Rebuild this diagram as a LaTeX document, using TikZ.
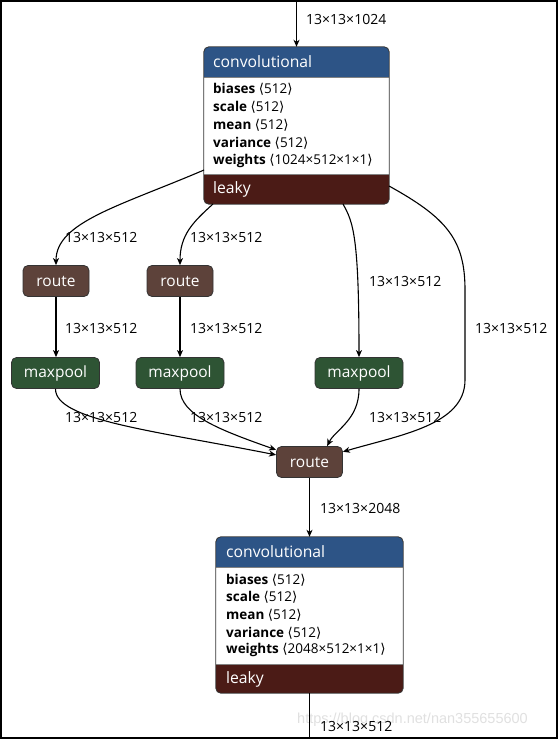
\documentclass[tikz,border=0pt]{standalone}
\usepackage{fontspec}
\setmainfont{Open Sans}
\newfontfamily\djv{DejaVu Sans}
\newfontfamily\wmfont{Liberation Sans}
\usetikzlibrary{arrows.meta,calc}
\definecolor{convblue}{RGB}{45,84,134}
\definecolor{leakyred}{RGB}{75,27,22}
\definecolor{routebrown}{RGB}{93,66,58}
\definecolor{poolgreen}{RGB}{46,84,52}
\definecolor{sepgray}{RGB}{130,130,130}
\newcommand{\lb}{{\djv\char"27E8}}
\newcommand{\rb}{{\djv\char"27E9}}
\tikzset{
  box/.style={draw=black!80, line width=0.8pt, rounded corners=5pt, text=white,
    font=\fontsize{15.5}{18}\selectfont, inner sep=0pt},
  routebox/.style={box, fill=routebrown, minimum width=66pt, minimum height=31pt},
  poolbox/.style={box, fill=poolgreen, minimum width=88pt, minimum height=31pt},
  lbl/.style={anchor=west, font=\fontsize{14}{16}\selectfont, inner sep=0pt},
  conn/.style={-{Stealth[length=7pt,width=6pt,inset=2pt]}, line width=1.1pt},
  hdr/.style={anchor=west, text=white, font=\fontsize{15.7}{18}\selectfont, inner sep=0pt},
  attr/.style={anchor=west, font=\fontsize{13.5}{15}\selectfont, inner sep=0pt},
  frame/.style={draw=black!80, line width=0.8pt, rounded corners=5pt},
}
\begin{document}
\begin{tikzpicture}[x=1pt,y=-1pt]
\useasboundingbox (0,0) rectangle (558,739);
\draw[line width=1.5pt] (0.75,0.75) rectangle (556.75,737.75);
\node[text=black!12, font=\wmfont\fontsize{14.5}{16}\selectfont, anchor=west, inner sep=0pt] (wm) at (297,720) {https://blog.csdn.net/nan355655600};

% ---------- top convolutional ----------
\node[minimum width=185pt, minimum height=157pt, inner sep=0pt] (c1) at (296.5,125.5) {};
\begin{scope}
  \clip[rounded corners=5pt] (c1.north west) rectangle (c1.south east);
  \fill[convblue] (c1.north west) rectangle (389,77);
  \fill[white] (204,77) rectangle (389,174);
  \fill[leakyred] (204,174) rectangle (c1.south east);
  \draw[sepgray, line width=1pt] (204,77) -- (389,77) (204,174) -- (389,174);
\end{scope}
\draw[frame] (c1.north west) rectangle (c1.south east);
\node[hdr] (c1h) at (213,62) {convolutional};
\node[attr] (c1a) at (213,89) {\textbf{biases} \lb512\rb};
\node[attr] (c1b) at (213,107) {\textbf{scale} \lb512\rb};
\node[attr] (c1c) at (213,125) {\textbf{mean} \lb512\rb};
\node[attr] (c1d) at (213,143) {\textbf{variance} \lb512\rb};
\node[attr] (c1e) at (213,161) {\textbf{weights} \lb1024×512×1×1\rb};
\node[hdr] (c1l) at (213,189) {leaky};

% ---------- middle nodes ----------
\node[routebox] (r1) at (56,281) {route};
\node[routebox] (r2) at (180,281) {route};
\node[poolbox] (m1) at (55.5,373) {maxpool};
\node[poolbox] (m2) at (180,373) {maxpool};
\node[poolbox] (m3) at (359,373) {maxpool};
\node[routebox] (r3) at (309.5,462) {route};

% ---------- bottom convolutional ----------
\node[minimum width=187pt, minimum height=156pt, inner sep=0pt] (c2) at (309.5,615) {};
\begin{scope}
  \clip[rounded corners=5pt] (c2.north west) rectangle (c2.south east);
  \fill[convblue] (c2.north west) rectangle (403,567);
  \fill[white] (216,567) rectangle (403,664);
  \fill[leakyred] (216,664) rectangle (c2.south east);
  \draw[sepgray, line width=1pt] (216,567) -- (403,567) (216,664) -- (403,664);
\end{scope}
\draw[frame] (c2.north west) rectangle (c2.south east);
\node[hdr] (c2h) at (226,552) {convolutional};
\node[attr] (c2a) at (226,580) {\textbf{biases} \lb512\rb};
\node[attr] (c2b) at (226,597) {\textbf{scale} \lb512\rb};
\node[attr] (c2c) at (226,615) {\textbf{mean} \lb512\rb};
\node[attr] (c2d) at (226,633) {\textbf{variance} \lb512\rb};
\node[attr] (c2e) at (226,650) {\textbf{weights} \lb2048×512×1×1\rb};
\node[hdr] (c2l) at (226,679) {leaky};

% ---------- connector end points ----------
\coordinate (top) at (296.5,0);
\coordinate (bot) at (309.5,739);
\coordinate (c1o1) at (204,170);
\coordinate (c1o2) at (213,204);
\coordinate (c1o3) at (343,204);
\coordinate (c1o4) at (389,186);

% ---------- connectors ----------
\draw[conn] (top) -- (c1.north);
\draw[conn] (c1o1) .. controls (120,206) and (56,222) .. (r1.north);
\draw[conn] (c1o2) .. controls (193,222) and (180,235) .. (r2.north);
\draw[conn] (c1o3) .. controls (353,222) and (359,235) .. (m3.north);
\draw[conn] (c1o4) .. controls (447,218) and (465,240) .. (465,290) -- (465,380)
   .. controls (465,425) and (400,435) .. (r3.17);
\draw[conn] (r1) -- (r1 |- m1.north);
\draw[conn] (r2) -- (m2.north);
\draw[conn] (m1.south) .. controls (55.5,420) and (150,430) .. (r3.168);
\draw[conn] (m2.south) .. controls (180,415) and (220,430) .. (r3.160);
\draw[conn] (m3.south) .. controls (359,420) and (335,430) .. (r3.42);
\draw[conn] (r3) -- (c2.north);
\draw[line width=1.1pt] (c2.south) -- (bot);

% ---------- labels ----------
\node[lbl] (l0) at (306,19) {13×13×1024};
\node[lbl] (l1) at (65,237) {13×13×512};
\node[lbl] (l2) at (190,237) {13×13×512};
\node[lbl] (l3) at (369,281) {13×13×512};
\node[lbl] (l4) at (475,328) {13×13×512};
\node[lbl] (l5) at (65,328) {13×13×512};
\node[lbl] (l6) at (190,328) {13×13×512};
\node[lbl] (l7) at (65,417) {13×13×512};
\node[lbl] (l8) at (190,417) {13×13×512};
\node[lbl] (l9) at (369,417) {13×13×512};
\node[lbl] (l10) at (320,508) {13×13×2048};
\node[lbl] (l11) at (320,726) {13×13×512};
\end{tikzpicture}
\end{document}
